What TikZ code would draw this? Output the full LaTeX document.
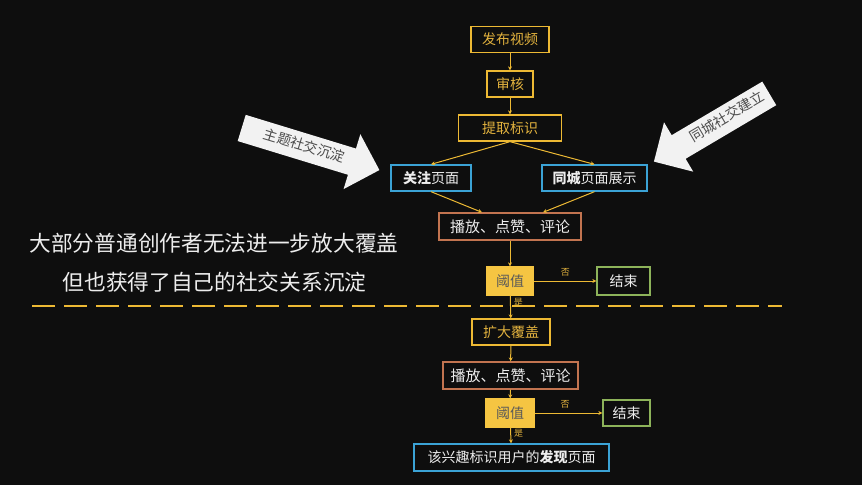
\documentclass[tikz,border=0pt]{standalone}
\usepackage{fontspec}
\setmainfont{Noto Sans CJK SC}
\usetikzlibrary{shapes.arrows,arrows.meta}
\definecolor{bg}{HTML}{0E0E0E}
\definecolor{gold}{HTML}{EDB934}
\definecolor{goldtxt}{HTML}{E2B23E}
\definecolor{fillgold}{HTML}{F5C542}
\definecolor{bluebd}{HTML}{3BA3D6}
\definecolor{brownbd}{HTML}{C27450}
\definecolor{greenbd}{HTML}{8DB35A}
\definecolor{wtxt}{HTML}{EDEDED}
\definecolor{arrw}{HTML}{F2F2F2}
\tikzset{
  box/.style={draw, line width=1.3pt, minimum height=26pt, inner sep=0pt, font=\fontsize{14}{16}\selectfont},
  ybox/.style={box, draw=gold, text=goldtxt},
  bbox/.style={box, draw=bluebd, text=wtxt},
  obox/.style={box, draw=brownbd, text=wtxt, font=\fontsize{15}{17}\selectfont},
  gbox/.style={box, draw=greenbd, text=wtxt},
  thr/.style={box, fill=fillgold, draw=fillgold, text=black!65},
  conn/.style={draw=gold, line width=1pt, -{Stealth[length=4pt,width=4pt]}},
  lbl/.style={text=goldtxt, font=\fontsize{9}{10}\selectfont, inner sep=1pt},
  bigarrow/.style={single arrow, fill=arrw, draw=none, single arrow head extend=15pt,
    inner xsep=0pt, inner ysep=7pt, text height=10pt, text depth=3pt,
    text=black!70, font=\fontsize{14}{16}\selectfont},
  side/.style={text=wtxt, font=\fontsize{21.7}{24}\selectfont, inner sep=0pt}
}
\begin{document}
\begin{tikzpicture}[x=1pt,y=-1pt]
\fill[bg] (0,0) rectangle (862,485);
\useasboundingbox (0,0) rectangle (862,485);

\node[ybox, minimum width=78pt] (pub) at (510,39.5) {发布视频};
\node[ybox, minimum width=46pt] (rev) at (510,84) {审核};
\node[ybox, minimum width=103pt] (ext) at (510,128) {提取标识};
\node[bbox, minimum width=80pt] (fol) at (431,178) {\textbf{关注}页面};
\node[bbox, minimum width=105pt] (city) at (594.5,178) {\textbf{同城}页面展示};
\node[obox, minimum width=142pt, minimum height=27pt] (play1) at (510,226.5) {播放、点赞、评论};
\node[thr, minimum width=47pt, minimum height=28pt] (th1) at (510,281) {阈值};
\node[gbox, minimum width=53pt, minimum height=28pt] (end1) at (623.5,281) {结束};
\node[ybox, minimum width=78pt] (exp) at (511,332) {扩大覆盖};
\node[obox, minimum width=135pt, minimum height=27pt] (play2) at (510.5,375.5) {播放、点赞、评论};
\node[thr, minimum width=48pt, minimum height=28pt] (th2) at (510,413) {阈值};
\node[gbox, minimum width=47pt] (end2) at (626.5,413) {结束};
\node[bbox, minimum width=195pt, minimum height=27pt] (disc) at (511.5,457.5) {该兴趣标识用户的\textbf{发现}页面};

\draw[conn] (pub) -- (rev);
\draw[conn] (rev) -- (ext);
\draw[conn] (ext.south) -- (fol.north);
\draw[conn] (ext.south) -- (city.north);
\draw[conn] (fol.south) -- (play1.north -| 482,0);
\draw[conn] (city.south) -- (play1.north -| 543,0);
\draw[conn] (play1) -- (th1);
\draw[conn] (th1) -- node[lbl, above, pos=0.5, yshift=3pt] {否} (end1);
\draw[conn] (th1) -- node[lbl, right, pos=0.3, xshift=2pt] {是} (exp);
\draw[conn] (exp) -- (play2);
\draw[conn] (play2) -- (th2);
\draw[conn] (th2) -- node[lbl, above, pos=0.45, yshift=3pt] {否} (end2);
\draw[conn] (th2) -- node[lbl, right, pos=0.35, xshift=2pt] {是} (disc);

\draw[gold, line width=2.6pt, dash pattern=on 23pt off 9pt] (32,306) -- (782,306);

\node[side] (t1) at (214,243) {大部分普通创作者无法进一步放大覆盖};
\node[side] (t2) at (214.5,282) {但也获得了自己的社交关系沉淀};

\node[bigarrow, minimum height=144pt, rotate=-17] (a1) at (304,147) {主题社交沉淀\hspace{24pt}};
\node[bigarrow, minimum height=134pt, shape border rotate=180, rotate=30.6] (a2) at (717.5,124) {\hspace{24pt}同城社交建立};
\end{tikzpicture}
\end{document}
